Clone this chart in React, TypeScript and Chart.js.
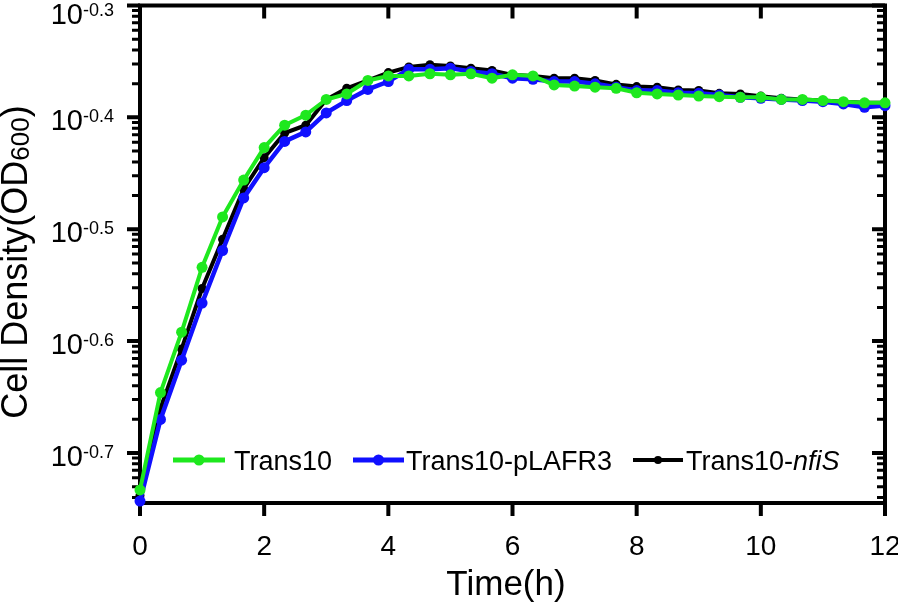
import React, { useEffect, useRef } from 'react';
import { Chart, registerables } from 'chart.js';

Chart.register(...registerables);

// Time points (h)
const TIME_H = [
  0, 0.33, 0.67, 1, 1.33, 1.67, 2, 2.33, 2.67, 3, 3.33, 3.67, 4, 4.33, 4.67, 5,
  5.33, 5.67, 6, 6.33, 6.67, 7, 7.33, 7.67, 8, 8.33, 8.67, 9, 9.33, 9.67, 10,
  10.33, 10.67, 11, 11.33, 11.67, 12,
];

// log10(OD600) values
const TRANS10 = [
  -0.733, -0.646, -0.592, -0.534, -0.489, -0.456, -0.427, -0.407, -0.398, -0.384,
  -0.379, -0.367, -0.363, -0.363, -0.361, -0.362, -0.361, -0.365, -0.362, -0.363,
  -0.371, -0.372, -0.373, -0.374, -0.378, -0.379, -0.38, -0.381, -0.3815, -0.382,
  -0.382, -0.384, -0.384, -0.385, -0.386, -0.387, -0.387,
];
const TRANS10_PLAFR3 = [
  -0.743, -0.67, -0.617, -0.566, -0.519, -0.472, -0.445, -0.4215, -0.413, -0.396,
  -0.385, -0.375, -0.368, -0.357, -0.357, -0.356, -0.359, -0.361, -0.365, -0.366,
  -0.368, -0.368, -0.37, -0.373, -0.376, -0.376, -0.378, -0.3785, -0.38, -0.382,
  -0.383, -0.384, -0.385, -0.386, -0.388, -0.391, -0.3895,
];
const TRANS10_NFIS = [
  -0.738, -0.66, -0.607, -0.553, -0.509, -0.464, -0.436, -0.414, -0.407, -0.384,
  -0.374, -0.367, -0.36, -0.355, -0.353, -0.354, -0.356, -0.358, -0.362, -0.363,
  -0.365, -0.365, -0.367, -0.3705, -0.3725, -0.373, -0.3755, -0.376, -0.3785, -0.379,
  -0.381, -0.383, -0.384, -0.385, -0.386, -0.387, -0.387,
];

const X_TICKS = [0, 2, 4, 6, 8, 10, 12];
const Y_MAJOR = [-0.7, -0.6, -0.5, -0.4, -0.3];
const Y_MAJOR_EXP_LABELS = ['-0.7', '-0.6', '-0.5', '-0.4', '-0.3'];
const Y_MINOR_BASES = [-0.8, -0.7, -0.6, -0.5, -0.4];
const Y_MINOR_K = [2, 3, 4, 5, 6, 7, 8, 9];
const Y_MIN = -0.7447; // log10(0.18)
const Y_MAX = -0.3;

const X_TITLE = 'Time(h)';
const Y_TITLE_MAIN = 'Cell Density(OD';
const Y_TITLE_SUB = '600';
const Y_TITLE_END = ')';

const LEGEND_NAMES = ['Trans10', 'Trans10-pLAFR3', 'Trans10-'];
const LEGEND_ITALIC = ['', '', 'nfiS'];

const GREEN = '#1ee81e';
const BLUE = '#1010ff';
const BLACK = '#000000';

const FONT = '"Liberation Sans", Arial, Helvetica, sans-serif';

const toPoints = (ys: number[]) => TIME_H.map((t, i) => ({ x: t, y: ys[i] }));

const axesPlugin = {
  id: 'customAxes',
  beforeDatasetsDraw(chart: any) {
    const { ctx, chartArea: a, scales } = chart;
    const xs = scales.x;
    const ys = scales.y;
    ctx.save();
    ctx.strokeStyle = '#000';
    ctx.fillStyle = '#000';
    // frame
    ctx.lineWidth = 4;
    ctx.strokeRect(a.left, a.top, a.right - a.left, a.bottom - a.top);

    // x ticks (bottom outward, top inward)
    ctx.lineWidth = 4;
    X_TICKS.forEach((v) => {
      const px = xs.getPixelForValue(v);
      ctx.beginPath();
      ctx.moveTo(px, a.bottom);
      ctx.lineTo(px, a.bottom + 13);
      ctx.moveTo(px, a.top);
      ctx.lineTo(px, a.top + 13);
      ctx.stroke();
    });

    // y major ticks (left outward, right inward)
    Y_MAJOR.forEach((v) => {
      const py = ys.getPixelForValue(v);
      ctx.beginPath();
      ctx.moveTo(a.left - 13, py);
      ctx.lineTo(a.left, py);
      ctx.moveTo(a.right - 13, py);
      ctx.lineTo(a.right, py);
      ctx.stroke();
    });

    // y minor ticks
    ctx.lineWidth = 3;
    Y_MINOR_BASES.forEach((m) => {
      Y_MINOR_K.forEach((k) => {
        const v = m + Math.log10(k) / 10;
        if (v < Y_MIN || v > Y_MAX) return;
        const py = ys.getPixelForValue(v);
        ctx.beginPath();
        ctx.moveTo(a.left - 8, py);
        ctx.lineTo(a.left, py);
        ctx.moveTo(a.right - 8, py);
        ctx.lineTo(a.right, py);
        ctx.stroke();
      });
    });

    // x tick labels
    ctx.font = `28px ${FONT}`;
    ctx.textAlign = 'center';
    ctx.textBaseline = 'alphabetic';
    X_TICKS.forEach((v) => {
      const px = xs.getPixelForValue(v);
      ctx.fillText(String(v), px, a.bottom + 52);
    });

    // y tick labels 10^x
    ctx.textAlign = 'left';
    Y_MAJOR.forEach((v, i) => {
      const py = ys.getPixelForValue(v);
      const baseline = Math.max(py + 13, 24);
      ctx.font = `18px ${FONT}`;
      const sup = Y_MAJOR_EXP_LABELS[i];
      const supW = ctx.measureText(sup).width;
      ctx.font = `29px ${FONT}`;
      const baseW = ctx.measureText('10').width;
      const right = 114;
      const x0 = right - supW - baseW;
      ctx.fillText('10', x0, baseline);
      ctx.font = `18px ${FONT}`;
      ctx.fillText(sup, x0 + baseW, baseline - 8);
    });

    // x title
    ctx.font = `35px ${FONT}`;
    ctx.textAlign = 'center';
    ctx.fillText(X_TITLE, 506, 595);

    // y title (rotated)
    ctx.save();
    ctx.translate(27, 262);
    ctx.rotate(-Math.PI / 2);
    ctx.textAlign = 'left';
    ctx.font = `36px ${FONT}`;
    const w1 = ctx.measureText(Y_TITLE_MAIN).width;
    const w3 = ctx.measureText(Y_TITLE_END).width;
    ctx.font = `26px ${FONT}`;
    const w2 = ctx.measureText(Y_TITLE_SUB).width;
    const total = w1 + w2 + w3;
    let cx = -total / 2;
    ctx.font = `36px ${FONT}`;
    ctx.fillText(Y_TITLE_MAIN, cx, 0);
    cx += w1;
    ctx.font = `26px ${FONT}`;
    ctx.fillText(Y_TITLE_SUB, cx, 2);
    cx += w2;
    ctx.font = `36px ${FONT}`;
    ctx.fillText(Y_TITLE_END, cx, 0);
    ctx.restore();

    ctx.restore();
  },
  afterDraw(chart: any) {
    const { ctx } = chart;
    const items = [
      { x1: 173, x2: 225, tx: 234, lw: 5, r: 5.5 },
      { x1: 353, x2: 404, tx: 406, lw: 5, r: 5.5 },
      { x1: 633, x2: 683, tx: 686, lw: 4, r: 4 },
    ];
    const ly = 460;
    ctx.save();
    chart.data.datasets.forEach((ds: any, i: number) => {
      const it = items[i];
      ctx.strokeStyle = ds.borderColor;
      ctx.fillStyle = ds.borderColor;
      ctx.lineWidth = it.lw;
      ctx.beginPath();
      ctx.moveTo(it.x1, ly);
      ctx.lineTo(it.x2, ly);
      ctx.stroke();
      ctx.beginPath();
      ctx.arc((it.x1 + it.x2) / 2, ly, it.r, 0, Math.PI * 2);
      ctx.fill();
      ctx.fillStyle = '#000';
      ctx.textAlign = 'left';
      ctx.textBaseline = 'alphabetic';
      ctx.font = `27px ${FONT}`;
      ctx.fillText(LEGEND_NAMES[i], it.tx, 470);
      if (LEGEND_ITALIC[i]) {
        const w = ctx.measureText(LEGEND_NAMES[i]).width;
        ctx.font = `italic 27px ${FONT}`;
        ctx.fillText(LEGEND_ITALIC[i], it.tx + w, 470);
      }
    });
    ctx.restore();
  },
};

export default function App() {
  const canvasRef = useRef<HTMLCanvasElement | null>(null);

  useEffect(() => {
    if (!canvasRef.current) return;
    const chart = new Chart(canvasRef.current, {
      type: 'line',
      data: {
        datasets: [
          {
            label: 'Trans10',
            data: toPoints(TRANS10),
            borderColor: GREEN,
            backgroundColor: GREEN,
            borderWidth: 4,
            pointRadius: 5.5,
            pointBorderWidth: 0,
            pointBackgroundColor: GREEN,
            clip: false as any,
            tension: 0,
          },
          {
            label: 'Trans10-pLAFR3',
            data: toPoints(TRANS10_PLAFR3),
            borderColor: BLUE,
            backgroundColor: BLUE,
            borderWidth: 4.5,
            pointRadius: 5.5,
            pointBorderWidth: 0,
            pointBackgroundColor: BLUE,
            clip: false as any,
            tension: 0,
          },
          {
            label: 'Trans10-nfiS',
            data: toPoints(TRANS10_NFIS),
            borderColor: BLACK,
            backgroundColor: BLACK,
            borderWidth: 4,
            pointRadius: 4.5,
            pointBorderWidth: 0,
            pointBackgroundColor: BLACK,
            clip: false as any,
            tension: 0,
          },
        ],
      },
      options: {
        responsive: false,
        animation: false,
        devicePixelRatio: 1,
        layout: { padding: { left: 140, right: 13, top: 5, bottom: 104 } },
        plugins: {
          legend: { display: false },
          tooltip: { enabled: false },
        },
        events: [],
        scales: {
          x: { type: 'linear', min: 0, max: 12, display: false },
          y: { type: 'linear', min: Y_MIN, max: Y_MAX, display: false },
        },
      },
      plugins: [axesPlugin],
    });
    return () => chart.destroy();
  }, []);

  return (
    <div style={{ position: 'fixed', left: 0, top: 0, width: 898, height: 607, background: '#fff' }}>
      <canvas ref={canvasRef} width={898} height={607} />
    </div>
  );
}
